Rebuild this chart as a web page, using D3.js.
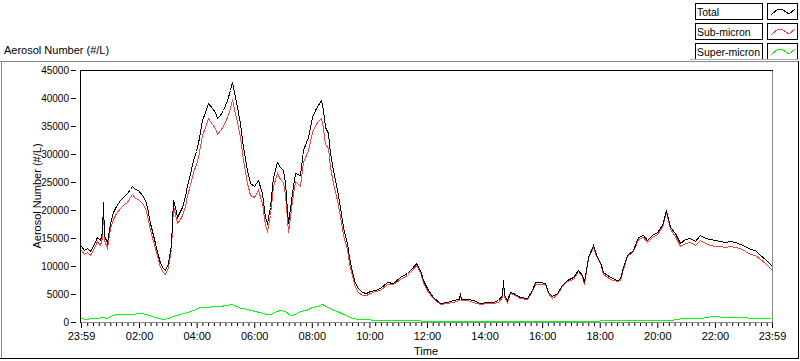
<!DOCTYPE html>
<html>
<head>
<meta charset="utf-8">
<script src="https://cdn.jsdelivr.net/npm/d3@7/dist/d3.min.js"></script>
<style>
  body { margin: 0; background: #fff; }
  svg { display: block; font-family: "Liberation Sans", Arial, sans-serif; font-size: 11px; }
  .axis text { fill: #000; }
  .axis line { stroke: #000; }
  .yaxis text { font-size: 10px; }
  .legend text { font-size: 10.5px; }
  .line { fill: none; stroke-width: 1; shape-rendering: crispEdges; }
</style>
</head>
<body>
<script>
// minutes after the 23:59 start, and the values read at those times
var totalMinutes = [0,6,13,19,25,33,40,44,46,48,54,60,67,73,81,90,96,102,106,113,119,127,133,138,144,154,165,171,175,181,188,192,196,200,206,210,217,221,227,233,240,244,252,258,265,273,279,283,290,296,304,311,315,319,325,331,338,346,352,361,369,377,383,388,394,400,408,415,421,425,429,431,440,446,456,463,473,481,488,494,500,504,508,515,519,525,533,540,546,554,558,565,571,577,586,594,602,613,623,638,650,665,679,690,698,706,713,723,734,748,763,775,788,790,792,804,817,831,846,859,869,877,879,881,888,894,900,915,929,940,946,957,967,973,982,992,1002,1013,1025,1036,1044,1048,1057,1067,1075,1082,1088,1102,1117,1123,1129,1138,1150,1161,1171,1179,1190,1200,1211,1219,1227,1238,1248,1259,1269,1280,1290,1300,1311,1321,1332,1342,1352,1363,1373,1384,1394,1405,1415,1425,1434,1440];

var totalValues = [13500,12800,13200,12700,13600,15200,14600,16000,21500,15500,14100,17700,19600,20800,21800,22500,23000,23800,24300,23700,23600,22700,21800,20500,17700,14100,10500,9600,9300,10500,14000,21800,20500,18800,19800,20500,22500,24500,26500,28900,30500,32000,36000,37500,39100,38200,37500,36400,37000,37900,39600,41400,42900,41100,38400,35500,31300,27100,24800,24300,25400,23000,18800,17700,20500,25900,28600,27700,27100,24800,20000,17700,23000,26600,26200,30700,33000,36600,37900,38800,39600,37900,34800,33700,30100,27100,23600,20500,17000,14100,11600,9000,7000,6000,5300,5200,5500,5800,6100,7100,7000,8000,8700,9600,10500,9300,7500,5700,4500,3400,3600,3900,4100,5200,4100,4100,3900,3400,3600,3600,3900,4800,7500,4800,3900,5400,5200,4500,4300,5700,7100,7100,7000,5400,4600,5200,6600,7500,8000,9300,8400,7100,11600,13700,11600,10700,8900,8000,7500,7700,9800,12000,12900,15200,15500,14600,15500,16100,17300,20000,17000,15900,14100,14800,15000,14500,15500,15000,14800,14600,14500,14300,14500,14200,14000,13500,13000,12800,12000,11200,10500,10000];

var subValues = [12800,12200,12550,12000,12900,14550,13800,15100,20600,14650,13300,16700,18350,19450,20350,21000,21500,22300,22800,22200,22050,21200,20350,19150,16450,13150,9800,9000,8650,9750,13100,20700,19350,17600,18400,19050,20800,22700,24500,26700,28150,29550,33370,34840,36400,35350,34600,33530,34200,35000,36600,38250,39750,38100,35650,32950,28850,24800,22650,22300,23500,21250,17250,16200,19080,24300,26550,25500,25050,22900,18350,16150,21620,25100,24300,28650,30750,34000,35150,35850,36400,34700,31800,31000,27600,24900,21700,18850,15600,12950,10600,8150,6300,5380,4780,4760,5100,5450,5770,6800,6700,7700,8400,9300,10200,9010,7220,5440,4250,3150,3350,3650,3850,4950,3850,3850,3650,3150,3350,3350,3650,4550,7250,4550,3650,5150,4950,4250,4050,5450,6850,6850,6750,5150,4350,4950,6350,7250,7750,9050,8150,6850,11350,13450,11350,10450,8650,7750,7240,7430,9520,11720,12610,14900,15200,14300,15190,15770,16950,19650,16600,15400,13500,14150,14300,13780,14700,14100,13770,13560,13500,13400,13630,13350,13170,12700,12230,12050,11290,10520,9850,9350];

var superMinutes = [0,10,23,33,44,54,65,77,92,106,123,135,148,160,171,181,192,206,221,233,248,263,277,290,302,313,323,333,346,361,373,386,396,406,415,425,436,446,456,469,481,492,502,511,521,533,546,561,575,592,613,644,686,727,790,873,957,1040,1123,1186,1227,1255,1290,1317,1342,1373,1405,1436];

var superValues = [700,600,750,650,900,800,1200,1400,1500,1500,1550,1400,1100,800,600,750,1100,1400,1800,2200,2600,2700,2900,2800,3000,3200,2800,2500,2300,2000,1850,1500,1400,2000,2200,1900,1300,1500,1900,2200,2600,2900,3300,2900,2400,1900,1400,900,600,450,350,300,300,250,250,250,250,250,270,300,400,650,800,1070,900,830,750,650];

var yTickValues = [0,5000,10000,15000,20000,25000,30000,35000,40000,45000];
var xTickLabels = ["23:59","02:00","04:00","06:00","08:00","10:00","12:00","14:00","16:00","18:00","20:00","22:00","23:59"];
var seriesNames = ["Total","Sub-micron","Super-micron"];
var seriesColors = ["#000000","#ff4040","#00ff00"];

var width = 800, height = 361;
var start = new Date(2000, 0, 1, 23, 59);
var end = d3.timeMinute.offset(start, 1440);

var x = d3.scaleTime().domain([start, end]).range([81, 772]);
var y = d3.scaleLinear().domain([0, 45000]).range([322, 70]);

var svg = d3.select("body").append("svg")
  .attr("width", width)
  .attr("height", height);

// outer panel frame
svg.append("line").attr("x1", 0).attr("x2", 798).attr("y1", 61.5).attr("y2", 61.5).attr("stroke", "#888");
svg.append("line").attr("x1", 1.5).attr("x2", 1.5).attr("y1", 61).attr("y2", 358).attr("stroke", "#888");
svg.append("line").attr("x1", 0).attr("x2", 799).attr("y1", 358.5).attr("y2", 358.5).attr("stroke", "#000");
svg.append("line").attr("x1", 798.5).attr("x2", 798.5).attr("y1", 61).attr("y2", 359).attr("stroke", "#000");

// title
svg.append("text").attr("x", 4).attr("y", 54).text("Aerosol Number (#/L)");

// x axis ticks: labelled majors and 12 minute minors
var majorDates = xTickLabels.map(function(l, i) {
  if (i == 0) return start;
  if (i == xTickLabels.length - 1) return end;
  var p = l.split(":");
  return new Date(2000, 0, 2, +p[0], +p[1]);
});
var minorDates = d3.timeMinute.every(12).range(start, end).filter(function(d) {
  return !majorDates.some(function(m) { return Math.abs(m - d) < 3 * 60000; });
});

function plain(g) {
  g.attr("font-family", null).attr("font-size", null);
  g.select(".domain").remove();
}

svg.append("g")
  .attr("class", "axis")
  .attr("transform", "translate(0,322)")
  .call(d3.axisBottom(x).tickValues(minorDates).tickSize(4).tickFormat(""))
  .call(plain);

svg.append("g")
  .attr("class", "axis")
  .attr("transform", "translate(0,322)")
  .call(d3.axisBottom(x).tickValues(majorDates).tickSize(6).tickPadding(4)
    .tickFormat(function(d, i) { return xTickLabels[i]; }))
  .call(plain);

// y axis, ticks sit a little left of the plot edge
svg.append("g")
  .attr("class", "axis yaxis")
  .attr("transform", "translate(76,0)")
  .call(d3.axisLeft(y).tickValues(yTickValues).tickSize(5).tickPadding(2).tickFormat(d3.format("d")))
  .call(plain);

// axis labels
svg.append("text")
  .attr("transform", "translate(41,196) rotate(-90)")
  .attr("text-anchor", "middle")
  .text("Aerosol Number (#/L)");

svg.append("text")
  .attr("x", 426).attr("y", 355)
  .attr("text-anchor", "middle")
  .text("Time");

// series
var toDate = function(m) { return d3.timeMinute.offset(start, m); };
var line = d3.line()
  .x(function(d) { return Math.round(x(d[0])) + 0.5; })
  .y(function(d) { return Math.round(y(d[1])) + 0.5; });

var superData = superMinutes.map(function(m, i) { return [toDate(m), superValues[i]]; });
var subData = totalMinutes.map(function(m, i) { return [toDate(m), subValues[i]]; });
var totalData = totalMinutes.map(function(m, i) { return [toDate(m), totalValues[i]]; });

svg.append("path").datum(superData).attr("class", "line").attr("stroke", seriesColors[2]).attr("d", line);
svg.append("path").datum(subData).attr("class", "line").attr("stroke", seriesColors[1]).attr("d", line);
svg.append("path").datum(totalData).attr("class", "line").attr("stroke", seriesColors[0]).attr("d", line);

// plot frame
svg.append("line").attr("x1", 80).attr("x2", 773).attr("y1", 70.5).attr("y2", 70.5).attr("stroke", "#000");
svg.append("line").attr("x1", 80.5).attr("x2", 80.5).attr("y1", 70).attr("y2", 323).attr("stroke", "#000");
svg.append("line").attr("x1", 81).attr("x2", 773).attr("y1", 322.5).attr("y2", 322.5).attr("stroke", "#888");
svg.append("line").attr("x1", 772.5).attr("x2", 772.5).attr("y1", 71).attr("y2", 323).attr("stroke", "#888");

// legend
var legend = svg.append("g").attr("class", "legend");
var rows = legend.selectAll("g").data(seriesNames).enter().append("g")
  .attr("transform", function(d, i) { return "translate(0," + (i * 20) + ")"; });

rows.append("rect")
  .attr("x", 695.5).attr("y", 3.5).attr("width", 67).attr("height", 16)
  .attr("fill", "#fff").attr("stroke", "#000");
rows.append("text")
  .attr("x", 697).attr("y", 16)
  .text(function(d) { return d; });
rows.append("rect")
  .attr("x", 767.5).attr("y", 3.5).attr("width", 30).attr("height", 16)
  .attr("fill", "#fff").attr("stroke", "#000");
rows.append("path")
  .attr("d", "M771,15L778,9L783,10L789,14L795,9")
  .attr("fill", "none")
  .attr("stroke", function(d, i) { return seriesColors[i]; })
  .attr("shape-rendering", "crispEdges");
legend.append("line").attr("x1", 690).attr("x2", 799).attr("y1", 59.5).attr("y2", 59.5).attr("stroke", "#aaa");
</script>
</body>
</html>
